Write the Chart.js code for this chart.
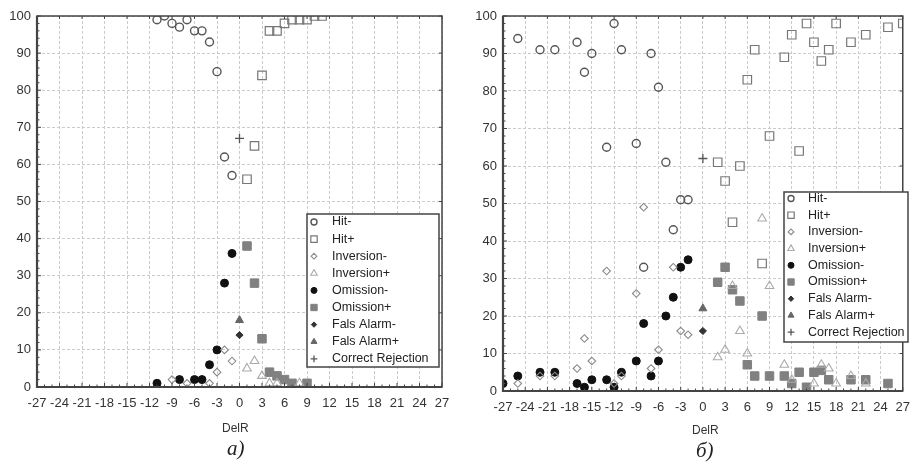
<!DOCTYPE html>
<html><head><meta charset="utf-8">
<script src="https://cdn.jsdelivr.net/npm/chart.js@4/dist/chart.umd.min.js"></script>
<style>
html,body{margin:0;padding:0;background:#fff;width:919px;height:465px;overflow:hidden;}
canvas{position:absolute;top:0;}
#ca{left:0;}
#cb{left:460px;}
.lbl{position:absolute;font-family:"Liberation Sans",Arial,sans-serif;font-size:12px;color:#333;}
.cap{position:absolute;font-family:"Liberation Serif","DejaVu Serif",serif;font-style:italic;font-size:21px;color:#222;}
</style></head><body>
<canvas id="ca" width="460" height="465" style="width:460px;height:465px"></canvas>
<canvas id="cb" width="459" height="465" style="width:459px;height:465px"></canvas>
<div class="lbl" style="left:222px;top:421px">DelR</div>
<div class="lbl" style="left:692px;top:423px">DelR</div>
<div class="cap" style="left:227px;top:436px">а)</div>
<div class="cap" style="left:696px;top:438px">б)</div>
<script>
// ---------- data ----------
const seriesNames = ['Hit-','Hit+','Inversion-','Inversion+','Omission-','Omission+','Fals Alarm-','Fals Alarm+','Correct Rejection'];
const xTickValues = [-27,-24,-21,-18,-15,-12,-9,-6,-3,0,3,6,9,12,15,18,21,24,27];
const yTickValues = [0,10,20,30,40,50,60,70,80,90,100];

// panel a)
const aHitMinus = [[-11,99],[-10,100],[-9,98],[-8,97],[-7,99],[-6,96],[-5,96],[-4,93],[-3,85],[-2,62],[-1,57]];
const aHitPlus = [[1,56],[2,65],[3,84],[4,96],[5,96],[6,98],[7,99],[8,99],[9,99],[10,100],[11,100]];
const aInversionMinus = [[-9,2],[-7,1],[-4,1],[-3,4],[-2,10],[-1,7]];
const aInversionPlus = [[1,5],[2,7],[3,3],[4,1],[5,1],[8,1]];
const aOmissionMinus = [[-11,1],[-8,2],[-6,2],[-5,2],[-4,6],[-3,10],[-2,28],[-1,36]];
const aOmissionPlus = [[1,38],[2,28],[3,13],[4,4],[5,3],[6,2],[7,1],[9,1]];
const aFalsAlarmMinus = [[0,14]];
const aFalsAlarmPlus = [[0,18]];
const aCorrectRejection = [[0,67]];

// panel б)
const bHitMinus = [[-25,94],[-22,91],[-20,91],[-17,93],[-16,85],[-15,90],[-13,65],[-12,98],[-11,91],[-9,66],[-8,33],[-7,90],[-6,81],[-5,61],[-4,43],[-3,51],[-2,51]];
const bHitPlus = [[2,61],[3,56],[4,45],[5,60],[6,83],[7,91],[8,34],[9,68],[11,89],[12,95],[13,64],[14,98],[15,93],[16,88],[17,91],[18,98],[20,93],[22,95],[25,97],[27,98]];
const bInversionMinus = [[-25,2],[-22,4],[-20,4],[-17,6],[-16,14],[-15,8],[-13,32],[-12,2],[-11,4],[-9,26],[-8,49],[-7,6],[-6,11],[-4,33],[-3,16],[-2,15]];
const bInversionPlus = [[2,9],[3,11],[4,28],[5,16],[6,10],[8,46],[9,28],[11,7],[12,3],[15,2],[16,7],[17,6],[18,2],[20,4],[22,2]];
const bOmissionMinus = [[-27,2],[-25,4],[-22,5],[-20,5],[-17,2],[-16,1],[-15,3],[-13,3],[-12,1],[-11,5],[-9,8],[-8,18],[-7,4],[-6,8],[-5,20],[-4,25],[-3,33],[-2,35]];
const bOmissionPlus = [[2,29],[3,33],[4,27],[5,24],[6,7],[7,4],[8,20],[9,4],[11,4],[12,2],[13,5],[14,1],[15,5],[16,5.5],[17,3],[20,3],[22,3],[25,2]];
const bFalsAlarmMinus = [[0,16]];
const bFalsAlarmPlus = [[0,22]];
const bCorrectRejection = [[0,62]];

// ---------- styles ----------
const styles = [
  {ps:'circle',   r:4,   bg:'rgba(0,0,0,0)', bc:'#555', bw:1.4},
  {ps:'rect',     r:6,   bg:'rgba(0,0,0,0)', bc:'#777', bw:1.2},
  {ps:'rectRot',  r:3.8, bg:'rgba(0,0,0,0)', bc:'#8a8a8a', bw:1.1},
  {ps:'triangle', r:5,   bg:'rgba(0,0,0,0)', bc:'#aaa', bw:1.1},
  {ps:'circle',   r:4,   bg:'#111', bc:'#111', bw:1},
  {ps:'rect',     r:6,   bg:'#808080', bc:'#808080', bw:1},
  {ps:'rectRot',  r:3.6, bg:'#333', bc:'#333', bw:1},
  {ps:'triangle', r:4.6, bg:'#666', bc:'#666', bw:1},
  {ps:'cross',    r:4.5, bg:'rgba(0,0,0,0)', bc:'#555', bw:1.3}
];

function toPts(arr){ return arr.map(p => ({x:p[0], y:p[1]})); }
function buildDatasets(list){
  return list.map((arr,i) => ({
    label: seriesNames[i], data: toPts(arr),
    pointStyle: styles[i].ps, pointRadius: styles[i].r, pointHoverRadius: styles[i].r,
    backgroundColor: styles[i].bg, borderColor: styles[i].bc, pointBorderWidth: styles[i].bw,
    showLine:false
  }));
}

function drawMarker(ctx, s, x, y, r){
  ctx.save();
  ctx.beginPath();
  ctx.lineWidth = s.bw; ctx.strokeStyle = s.bc; ctx.fillStyle = s.bg;
  if (s.ps==='circle'){ ctx.arc(x,y,r,0,Math.PI*2); }
  else if (s.ps==='rect'){ const h=r*Math.SQRT1_2; ctx.rect(x-h,y-h,2*h,2*h); }
  else if (s.ps==='rectRot'){ ctx.moveTo(x,y-r); ctx.lineTo(x+r,y); ctx.lineTo(x,y+r); ctx.lineTo(x-r,y); ctx.closePath(); }
  else if (s.ps==='triangle'){ const a=Math.PI/2; for(let k=0;k<3;k++){const an=-a+k*2*Math.PI/3; const px=x+Math.cos(an)*r, py=y+Math.sin(an)*r; k?ctx.lineTo(px,py):ctx.moveTo(px,py);} ctx.closePath(); }
  else if (s.ps==='cross'){ ctx.moveTo(x-r,y); ctx.lineTo(x+r,y); ctx.moveTo(x,y-r); ctx.lineTo(x,y+r); }
  if (s.ps!=='cross') ctx.fill();
  ctx.stroke();
  ctx.restore();
}

const framePlugin = {
  id:'frame',
  afterDraw(chart, args, o){
    const ctx = chart.ctx, ca = chart.chartArea, xs = chart.scales.x, ys = chart.scales.y;
    ctx.save();
    ctx.strokeStyle = '#444';
    ctx.lineWidth = 1.5;
    ctx.strokeRect(ca.left, ca.top, ca.right-ca.left, ca.bottom-ca.top);
    ctx.lineWidth = 2.2;
    ctx.beginPath(); ctx.moveTo(ca.left, ca.top); ctx.lineTo(ca.left, ca.bottom); ctx.lineTo(ca.right, ca.bottom); ctx.stroke();
    ctx.lineWidth = 1;
    ctx.beginPath();
    for (let v=0; v<=100; v+=2){ const py=ys.getPixelForValue(v); const L = v%10===0?4:2.5; ctx.moveTo(ca.left, py); ctx.lineTo(ca.left+L, py); if(v%10===0){ctx.moveTo(ca.right,py); ctx.lineTo(ca.right-3,py);} }
    for (let v=-27; v<=27; v+=1){ const px=xs.getPixelForValue(v); const L = v%3===0?4:2.5; ctx.moveTo(px, ca.bottom); ctx.lineTo(px, ca.bottom-L); if(v%3===0){ctx.moveTo(px,ca.top); ctx.lineTo(px,ca.top+3);} }
    ctx.stroke();
    // legend box
    const L = o;
    ctx.fillStyle = '#fff';
    ctx.fillRect(L.x, L.y, L.w, L.h);
    ctx.lineWidth = 1.5; ctx.strokeStyle = '#444';
    ctx.strokeRect(L.x, L.y, L.w, L.h);
    ctx.font = '12.5px "Liberation Sans", Arial, sans-serif';
    ctx.textBaseline = 'middle';
    seriesNames.forEach((n,i) => {
      const yy = L.row0 + i*L.rowH;
      drawMarker(ctx, styles[i], L.mx, yy, styles[i].r*0.75);
      ctx.fillStyle = '#222';
      ctx.fillText(n, L.tx, yy);
    });
    ctx.restore();
  }
};

function makeChart(id, lists, pad, yWidth, legend){
  return new Chart(document.getElementById(id), {
    type:'scatter',
    data:{ datasets: buildDatasets(lists) },
    options:{
      responsive:false, animation:false, events:[],
      layout:{ padding: pad },
      plugins:{ legend:{display:false}, tooltip:{enabled:false}, frame: legend },
      scales:{
        x:{ type:'linear', min:-27, max:27,
            afterBuildTicks(s){ s.ticks = xTickValues.map(v=>({value:v})); },
            afterFit(s){ s.height = 30; },
            grid:{ color:'#cbcbcb', lineWidth:1, drawTicks:false },
            border:{ display:false, dash:[3,2] },
            ticks:{ padding:9, color:'#333', font:{family:'"Liberation Sans", Arial, sans-serif', size:13}, maxRotation:0, autoSkip:false }
        },
        y:{ type:'linear', min:0, max:100,
            afterBuildTicks(s){ s.ticks = yTickValues.map(v=>({value:v})); },
            afterFit(s){ s.width = yWidth; },
            grid:{ color:'#cbcbcb', lineWidth:1, drawTicks:false },
            border:{ display:false, dash:[3,2] },
            ticks:{ padding:6, color:'#333', font:{family:'"Liberation Sans", Arial, sans-serif', size:13} }
        }
      }
    },
    plugins:[framePlugin]
  });
}

makeChart('ca',
  [aHitMinus,aHitPlus,aInversionMinus,aInversionPlus,aOmissionMinus,aOmissionPlus,aFalsAlarmMinus,aFalsAlarmPlus,aCorrectRejection],
  {left:0, top:16, right:18, bottom:48}, 37,
  {x:307, y:214, w:132, h:153, row0:222, rowH:17.1, mx:314, tx:332});

makeChart('cb',
  [bHitMinus,bHitPlus,bInversionMinus,bInversionPlus,bOmissionMinus,bOmissionPlus,bFalsAlarmMinus,bFalsAlarmPlus,bCorrectRejection],
  {left:0, top:16, right:7, bottom:44}, 43,
  {x:324, y:192, w:124, h:150, row0:198.5, rowH:16.7, mx:331, tx:348});
</script>
</body></html>
